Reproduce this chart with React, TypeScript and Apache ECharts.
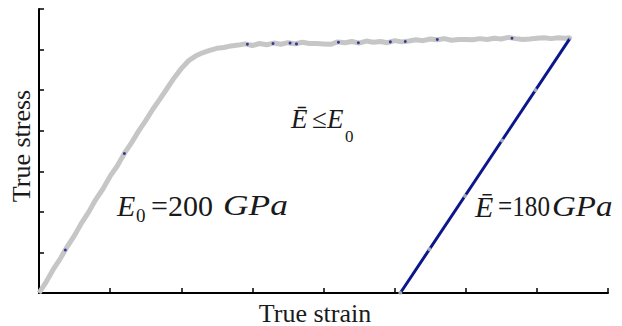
import React, { useEffect, useRef } from "react";
import * as echarts from "echarts";

// Loading curve (grey)
const loadStrain = [
  0, 0.1, 0.2, 0.3, 0.4, 0.5, 0.6, 0.7, 0.8, 0.9, 1.0, 1.1, 1.2, 1.3, 1.4, 1.5, 1.6, 1.7, 1.8, 1.9, 2.0,
  2.1, 2.2, 2.3, 2.4, 2.5, 2.6, 2.7, 2.8, 2.9, 3.0, 3.1, 3.2, 3.3, 3.4, 3.5, 3.6, 3.7, 3.8, 3.9, 4.0,
  4.1, 4.2, 4.3, 4.4, 4.5, 4.6, 4.7, 4.8, 4.9, 5.0, 5.1, 5.2, 5.3, 5.4, 5.5, 5.6, 5.7, 5.8, 5.9, 6.0,
  6.1, 6.2, 6.3, 6.4, 6.5, 6.6, 6.7, 6.8, 6.9, 7.0, 7.1, 7.2, 7.3, 7.4, 7.47,
];
const loadStress = [
  0, 0.27, 0.58, 0.85, 1.15, 1.42, 1.73, 2.0, 2.31, 2.57, 2.88, 3.13, 3.44, 3.7, 3.99, 4.25, 4.53, 4.78, 5.04, 5.3, 5.53,
  5.72, 5.84, 5.92, 5.98, 6.03, 6.05, 6.09, 6.11, 6.14, 6.1, 6.15, 6.12, 6.16, 6.13, 6.17, 6.14, 6.18, 6.15, 6.15, 6.14,
  6.13, 6.19, 6.17, 6.2, 6.16, 6.21, 6.18, 6.2, 6.17, 6.22, 6.19, 6.21, 6.24, 6.22, 6.26, 6.24, 6.27, 6.23, 6.25, 6.25,
  6.24, 6.27, 6.25, 6.28, 6.26, 6.3, 6.27, 6.25, 6.26, 6.28, 6.29, 6.27, 6.29, 6.28, 6.29,
];

// Unloading line (blue)
const unloadStrain = [7.47, 5.08];
const unloadStress = [6.29, 0];

// Small navy dots on the grey curve
const navyDotStrain = [0.37, 1.2, 2.93, 3.29, 3.53, 3.62, 4.21, 4.49, 4.94, 5.15, 5.6, 6.65];
const navyDotStress = [1.06, 3.44, 6.13, 6.15, 6.16, 6.14, 6.18, 6.17, 6.19, 6.2, 6.25, 6.28];

// Grey dots on the blue line
const greyDotStrain = [7.47, 6.98, 6.51, 5.99, 5.49, 5.08];
const greyDotStress = [6.29, 5.0, 3.76, 2.39, 1.08, 0];

const xMin = 0, xMax = 8, xStep = 1;
const yMin = 0, yMax = 7, yStep = 1;

const zip = (a: number[], b: number[]) => a.map((v, i) => [v, b[i]]);

const SERIF = "'Liberation Serif', 'Times New Roman', serif";
const GREY = "#c6c6c6";
const NAVY = "#0b168c";
const INK = "#1a1a1a";

export default function App() {
  const ref = useRef<HTMLDivElement>(null);
  useEffect(() => {
    if (!ref.current) return;
    const chart = echarts.init(ref.current, undefined, { renderer: "svg" });
    const axisCommon = {
      type: "value" as const,
      axisLine: { show: true, onZero: false, lineStyle: { color: "#000", width: 2 } },
      axisTick: { show: true, inside: true, length: 5, lineStyle: { color: "#000", width: 1.5 } },
      axisLabel: { show: false },
      splitLine: { show: false },
    };
    const t = (
      text: string,
      x: number,
      y: number,
      size: number,
      italic: boolean,
      extra: any = {}
    ) => ({
      type: "text",
      x,
      y,
      scaleX: extra.scaleX || 1,
      style: {
        text,
        fontFamily: SERIF,
        fontSize: size,
        fontStyle: italic ? "italic" : "normal",
        fill: INK,
        align: extra.align || "left",
        verticalAlign: "middle",
      },
    });
    chart.setOption({
      animation: false,
      backgroundColor: "#fff",
      grid: { left: 39, right: 14, top: 9, bottom: 33 },
      xAxis: { ...axisCommon, min: xMin, max: xMax, interval: xStep },
      yAxis: { ...axisCommon, min: yMin, max: yMax, interval: yStep },
      series: [
        {
          type: "line",
          data: zip(loadStrain, loadStress),
          symbol: "none",
          lineStyle: { color: GREY, width: 5 },
          z: 2,
        },
        {
          type: "line",
          data: zip(unloadStrain, unloadStress),
          symbol: "none",
          lineStyle: { color: NAVY, width: 3 },
          z: 3,
        },
        {
          type: "scatter",
          data: zip(navyDotStrain, navyDotStress),
          symbolSize: 3,
          itemStyle: { color: NAVY },
          z: 4,
        },
        {
          type: "scatter",
          data: zip(greyDotStrain, greyDotStress),
          symbolSize: 4,
          itemStyle: { color: GREY },
          z: 4,
        },
      ],
      graphic: [
        t("True strain", 315, 313, 26, false, { align: "center" }),
        {
          type: "text",
          x: 21,
          y: 146,
          rotation: Math.PI / 2,
          style: {
            text: "True stress",
            fontFamily: SERIF,
            fontSize: 26,
            fill: INK,
            align: "center",
            verticalAlign: "middle",
          },
        },
        // E0 = 200 GPa
        t("E", 117, 205, 30, true),
        t("0", 136, 215, 19, false),
        t("=200", 151, 205, 30, false),
        t("GPa", 223, 205, 30, true, { scaleX: 1.18 }),
        // Ē = 180 GPa
        t("\u0112", 475, 206, 30, true),
        t("=180", 498, 206, 30, false, { scaleX: 0.84 }),
        t("GPa", 552, 206, 30, true, { scaleX: 1.1 }),
        // Ē ≤ E0
        t("\u0112", 291, 119, 27, true),
        t("\u2264", 312, 119, 27, false),
        t("E", 327, 119, 27, true),
        t("0", 345, 136, 17, false),
      ],
    });
    return () => chart.dispose();
  }, []);
  return (
    <div
      ref={ref}
      style={{ position: "absolute", left: 0, top: 0, width: 622, height: 326, background: "#fff" }}
    />
  );
}
